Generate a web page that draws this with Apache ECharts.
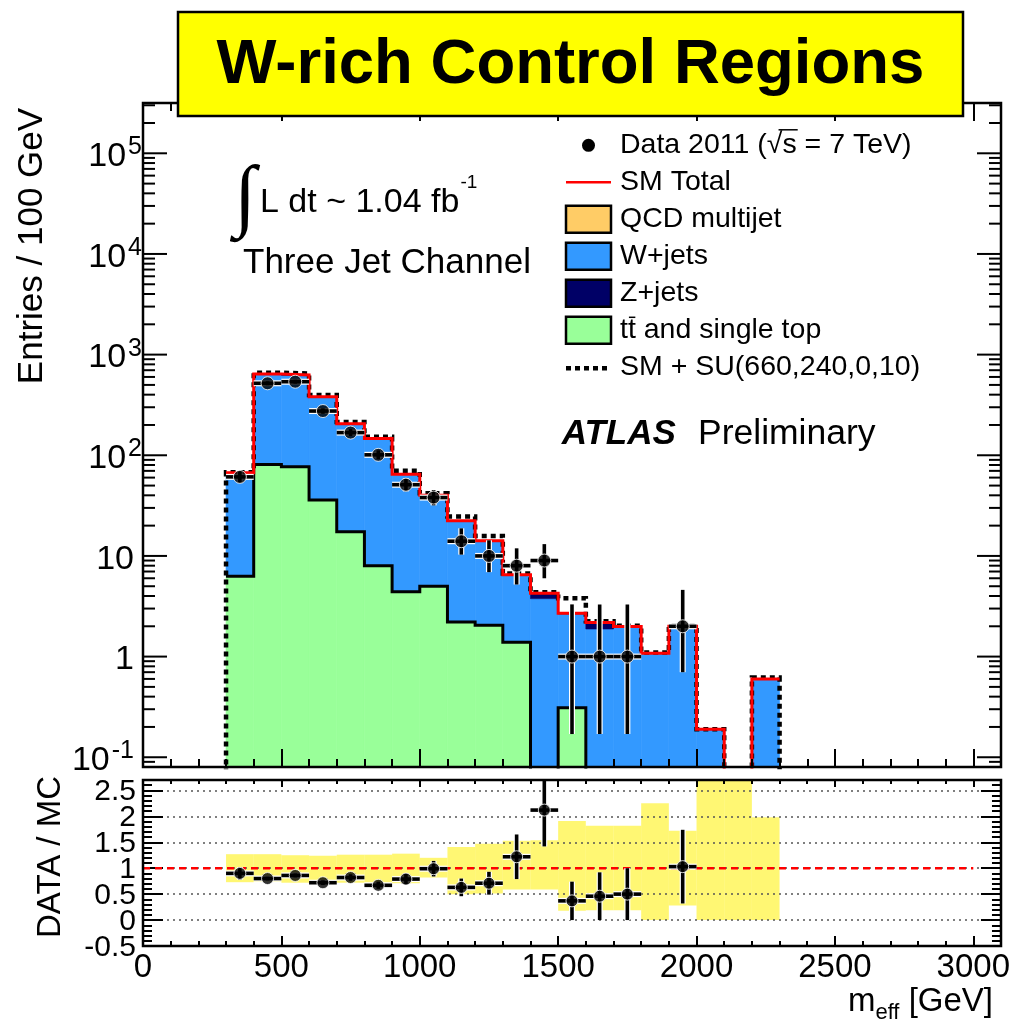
<!DOCTYPE html>
<html>
<head>
<meta charset="utf-8">
<title>W-rich Control Regions</title>
<script src="https://cdn.jsdelivr.net/npm/echarts@6/dist/echarts.min.js"></script>
<style>
  html, body { margin: 0; padding: 0; background: #fff; }
  #chart { width: 1013px; height: 1023px; }
</style>
</head>
<body>
<div id="chart"></div>
<script>
// ---------------- Data ----------------
const binLo = [300, 400, 500, 600, 700, 800, 900, 1000, 1100, 1200, 1300, 1400, 1500, 1600, 1700, 1800, 1900, 2000, 2100, 2200];
const BIN_WIDTH = 100;

// MC stack, entries per bin
const ttbarVals = [6.3, 81, 77, 36, 17.4, 8.0, 4.4, 5.0, 2.2, 2.05, 1.39, 0, 0.31, 0, 0, 0, 0, 0, 0, 0];
const wjetsVals = [60.4, 557, 547, 344, 187, 138, 60, 34.7, 19.9, 12, 5.0, 3.76, 2.34, 1.88, 1.99, 1.08, 2.0, 0.19, 0, 0.6];
const zjetsVals = [0.3, 3, 3, 2, 1, 1, 0.5, 0.3, 0.2, 0.1, 0.1, 0.5, 0.05, 0.3, 0, 0, 0, 0, 0, 0];
const qcdVals   = [0, 0, 0, 0, 0, 0, 0, 0, 0, 0, 0, 0, 0, 0, 0, 0, 0, 0, 0, 0];
const suTotalVals = [68, 662, 648, 396, 214, 153, 70, 42, 24.6, 15.8, 6.7, 4.35, 3.8, 2.25, 2.02, 1.1, 2.02, 0.19, 0, 0.62];

// data
const dataCounts  = [61, 519, 538, 275, 168, 101, 51, 38, 14, 10, 8, 9, 1, 1, 1, 0, 2, 0, 0, 0];
const dataErrUp   = [8.3, 23.8, 24.2, 17.6, 14, 11, 8.2, 7.2, 4.8, 4.3, 3.9, 4.1, 2.3, 2.3, 2.3, 0, 2.6, 0, 0, 0];
const dataErrDown = [7.8, 22.8, 23.2, 16.6, 13, 10, 7.1, 6.2, 3.7, 3.1, 2.8, 3.0, 0.83, 0.83, 0.83, 0, 1.3, 0, 0, 0];

// ratio panel
const ratioVals = [0.90, 0.80, 0.86, 0.72, 0.82, 0.67, 0.79, 0.99, 0.63, 0.71, 1.22, 2.12, 0.37, 0.46, 0.50, null, 1.03, null, null, null];
const ratioErr  = [0.12, 0.035, 0.037, 0.045, 0.063, 0.068, 0.11, 0.15, 0.17, 0.22, 0.43, 0.70, 0.37, 0.46, 0.50, null, 0.71, null, null, null];
const bandUp    = [1.27, 1.27, 1.25, 1.24, 1.26, 1.26, 1.28, 1.20, 1.41, 1.47, 1.53, 1.54, 1.91, 1.82, 1.82, 2.25, 1.72, 3.0, 3.0, 1.98];
const bandDown  = [0.73, 0.74, 0.72, 0.72, 0.72, 0.72, 0.71, 0.82, 0.50, 0.51, 0.59, 0.59, 0.18, 0.19, 0.19, 0, 0.28, 0, 0, 0];

// axis ticks / labels
const xTickLabels = ['0', '500', '1000', '1500', '2000', '2500', '3000'];
const logDecades = [-1, 0, 1, 2, 3, 4, 5];
const ratioTickLabels = ['-0.5', '0', '0.5', '1', '1.5', '2', '2.5'];

const legendLabels = ['Data 2011 (\u221As = 7 TeV)', 'SM Total', 'QCD multijet', 'W+jets', 'Z+jets', 'tt and single top', 'SM + SU(660,240,0,10)'];

// ---------------- Style ----------------
const FONT = '"Liberation Sans", Arial, Helvetica, sans-serif';
const C_TT = '#99ff99', C_W = '#3399ff', C_Z = '#000066', C_QCD = '#ffcc66', C_RED = '#ff0000';
const Y_MIN = 0.08, Y_MAX = 3.16e5;
const LINE_FLOOR = Y_MIN * 0.7;   // empty bins: lines drop below the frame and get clipped
const MAIN = { left: 143, top: 103, width: 858, height: 664 };
const RATIO = { left: 143, top: 780, width: 858, height: 166 };

const measureCtx = document.createElement('canvas').getContext('2d');
function textWidth(str, size, weight, family) {
    measureCtx.font = (weight || 'normal') + ' ' + size + 'px ' + (family || FONT);
    return measureCtx.measureText(str).width;
}

function txt(text, x, y, size, opts) {
    opts = opts || {};
    return {
        type: 'text', x: x, y: y, rotation: opts.rotation || 0, z: opts.z || 60,
        style: {
            text: text, fill: '#000', fontSize: size, fontFamily: opts.family || FONT,
            fontWeight: opts.weight || 'normal', fontStyle: opts.style || 'normal',
            align: opts.align || 'left', verticalAlign: 'middle',
            textAlign: opts.align || 'left', textVerticalAlign: 'middle'
        }
    };
}

// cumulative stack
const cumTT = ttbarVals.slice();
const cumW = cumTT.map((v, i) => v + wjetsVals[i]);
const cumZ = cumW.map((v, i) => v + zjetsVals[i]);
const smTotal = cumZ.map((v, i) => v + qcdVals[i]);

function stepPoints(vals, closeEdges) {
    const pts = [];
    if (closeEdges) pts.push([binLo[0], LINE_FLOOR]);
    vals.forEach((v, i) => pts.push([binLo[i], Math.max(v, LINE_FLOOR)]));
    const lastHi = binLo[binLo.length - 1] + BIN_WIDTH;
    pts.push([lastHi, Math.max(vals[vals.length - 1], LINE_FLOOR)]);
    if (closeEdges) pts.push([lastHi, LINE_FLOOR]);
    return pts;
}

function clipToGrid(rect, params) {
    const cs = params.coordSys;
    return echarts.graphic.clipRectByRect(rect, { x: cs.x, y: cs.y, width: cs.width, height: cs.height });
}

// ---------------- Series builders ----------------
function histFill(name, lower, upper, color, z) {
    return {
        name: name, type: 'custom', xAxisIndex: 0, yAxisIndex: 0, z: z, silent: true,
        data: binLo.map((lo, i) => [lo, Math.max(upper[i], Y_MIN), lo + BIN_WIDTH, Math.max(lower[i], Y_MIN)]),
        renderItem: (params, api) => {
            const top = api.value(1), bot = api.value(3);
            if (!(top > bot)) return null;
            const p0 = api.coord([api.value(0), top]);
            const p1 = api.coord([api.value(2), bot]);
            const rect = clipToGrid({ x: p0[0], y: p0[1], width: p1[0] - p0[0], height: p1[1] - p0[1] }, params);
            return rect && { type: 'rect', shape: rect, style: { fill: color, stroke: color, lineWidth: 0.6 } };
        }
    };
}

function stepLine(name, vals, color, width, dash, closeEdges, z) {
    return {
        name: name, type: 'line', xAxisIndex: 0, yAxisIndex: 0, step: 'end', symbol: 'none',
        z: z, silent: true, clip: true,
        data: stepPoints(vals, closeEdges),
        lineStyle: { color: color, width: width, type: dash || 'solid', cap: 'butt', join: 'miter' }
    };
}

function errorBars(name, xIdx, yIdx, data, clampMin, z) {
    return {
        name: name, type: 'custom', xAxisIndex: xIdx, yAxisIndex: yIdx, z: z, silent: true,
        data: data,
        renderItem: (params, api) => {
            const x = api.value(0), v = api.value(1);
            const lo = Math.max(api.value(2), clampMin), hi = api.value(3);
            const cs = params.coordSys;
            const c = api.coord([x, v]);
            let t = api.coord([x, hi])[1];
            let b = api.coord([x, lo])[1];
            t = Math.max(t, cs.y); b = Math.min(b, cs.y + cs.height);
            const l = api.coord([x - BIN_WIDTH / 2, v])[0];
            const r = api.coord([x + BIN_WIDTH / 2, v])[0];
            const seg = (x1, y1, x2, y2, col, w) => ({ type: 'line', shape: { x1: x1, y1: y1, x2: x2, y2: y2 }, style: { stroke: col, lineWidth: w } });
            return {
                type: 'group',
                children: [
                    seg(c[0], t, c[0], b, '#fff', 6), seg(l, c[1], r, c[1], '#fff', 6),
                    seg(c[0], t, c[0], b, '#000', 3.6), seg(l, c[1], r, c[1], '#000', 3.6)
                ]
            };
        }
    };
}

// ---------------- Axis decorations ----------------
// log-axis ticks 1..9 x 10^k, drawn through the y scale
const logTicks = [];
for (let k = -2; k <= 5; k++) {
    for (let m = 1; m <= 9; m++) {
        const v = m * Math.pow(10, k);
        if (v >= Y_MIN && v <= Y_MAX) logTicks.push([0, v, m === 1 ? 1 : 0]);
    }
}

function renderLogTick(params, api) {
    const v = api.value(1), major = api.value(2) === 1;
    const cs = params.coordSys;
    const y = api.coord([0, v])[1];
    const len = major ? 24 : 12;
    const st = { stroke: '#000', lineWidth: 2 };
    const children = [
        { type: 'line', shape: { x1: cs.x, y1: y, x2: cs.x + len, y2: y }, style: st },
        { type: 'line', shape: { x1: cs.x + cs.width - len, y1: y, x2: cs.x + cs.width, y2: y }, style: st }
    ];
    if (major) {
        const k = Math.round(Math.log10(v));
        if (logDecades.indexOf(k) >= 0) {
            if (k === 0 || k === 1) {
                children.push(txt(k === 0 ? '1' : '10', cs.x - 9, y + 3.5, 34, { align: 'right' }));
            } else {
                const sup = String(k);
                const supRight = k > 0 ? cs.x - 1 : cs.x - 9;
                const sw = textWidth(sup, 25);
                children.push(txt(sup, supRight, y - 6, 25, { align: 'right' }));
                children.push(txt('10', supRight - sw - 2, y + 3.5, 34, { align: 'right' }));
            }
        }
    }
    return { type: 'group', children: children };
}

// ratio y labels, placed through the ratio y scale
function renderRatioLabel(params, api) {
    const v = api.value(1);
    const y = api.coord([0, v])[1];
    return txt(ratioTickLabels[params.dataIndex], params.coordSys.x - 7, y + 1.5, 30, { align: 'right' });
}

// ---------------- Chart ----------------
const chart = echarts.init(document.getElementById('chart'));

const tickStyle = { color: '#000', width: 2 };
function xAxisDef(grid, pos, major, minor, labels) {
    return {
        gridIndex: grid, type: 'value', position: pos, min: 0, max: 3100, interval: 500, z: 10,
        axisLine: { show: false, onZero: false },
        splitLine: { show: false },
        axisTick: { show: true, inside: true, length: major, lineStyle: tickStyle },
        minorTick: { show: true, splitNumber: 5, length: minor, lineStyle: tickStyle },
        axisLabel: labels ? {
            show: true, fontSize: 33, fontFamily: FONT, color: '#000', margin: 5,
            showMinLabel: true, showMaxLabel: false,
            formatter: v => (xTickLabels.indexOf(String(v)) >= 0 ? String(v) : '')
        } : { show: false }
    };
}

function ratioYAxis(pos, grid) {
    return {
        gridIndex: 1, type: 'value', position: pos, min: -0.5, max: 2.7, interval: 0.5, z: 10,
        axisLine: { show: false, onZero: false },
        axisTick: { show: true, inside: true, length: 20, lineStyle: tickStyle },
        minorTick: { show: true, splitNumber: 5, length: 9, lineStyle: tickStyle },
        splitLine: grid ? { show: true, lineStyle: { color: '#555', width: 1.5, type: [2, 4] } } : { show: false },
        axisLabel: { show: false }
    };
}

// data points
const mainPoints = binLo.map((lo, i) => [lo + BIN_WIDTH / 2, dataCounts[i]]).filter(p => p[1] > 0);
const mainErrData = binLo.map((lo, i) => [lo + BIN_WIDTH / 2, dataCounts[i], dataCounts[i] - dataErrDown[i], dataCounts[i] + dataErrUp[i]])
    .filter(p => p[1] > 0);
const ratioPoints = binLo.map((lo, i) => [lo + BIN_WIDTH / 2, ratioVals[i]]).filter(p => p[1] !== null);
const ratioErrData = binLo.map((lo, i) => [lo + BIN_WIDTH / 2, ratioVals[i], ratioVals[i] - ratioErr[i], ratioVals[i] + ratioErr[i]])
    .filter(p => p[1] !== null);

// ---------------- Graphic overlays ----------------
function buildLegend() {
    const els = [];
    const x0 = 566, boxW = 45, boxH = 27, tx = 620, y0 = 145.3, dy = 37, fs = 28.5;
    const kinds = ['marker', 'line', 'box', 'box', 'box', 'box', 'dotted'];
    const colors = ['#000', C_RED, C_QCD, C_W, C_Z, C_TT, '#000'];
    legendLabels.forEach((label, i) => {
        const y = y0 + i * dy;
        const kind = kinds[i];
        if (kind === 'marker') {
            els.push({ type: 'circle', z: 60, shape: { cx: x0 + boxW / 2, cy: y, r: 6.5 }, style: { fill: '#000' } });
        } else if (kind === 'line') {
            els.push({ type: 'line', z: 60, shape: { x1: x0, y1: y, x2: x0 + boxW, y2: y }, style: { stroke: colors[i], lineWidth: 2.5 } });
        } else if (kind === 'dotted') {
            els.push({ type: 'line', z: 60, shape: { x1: x0, y1: y + 1, x2: x0 + boxW, y2: y + 1 }, style: { stroke: '#000', lineWidth: 4.5, lineDash: [5, 4] } });
        } else {
            els.push({ type: 'rect', z: 60, shape: { x: x0, y: y - boxH / 2, width: boxW, height: boxH }, style: { fill: colors[i], stroke: '#000', lineWidth: 2.5 } });
        }
        els.push(txt(label, tx, y, fs));
    });
    // sqrt overline over "s"
    const wa = textWidth('Data 2011 (', fs), wb = textWidth('Data 2011 (\u221A', fs), wc = textWidth('Data 2011 (\u221As', fs);
    els.push({ type: 'line', z: 60, shape: { x1: tx + wa + (wb - wa) * 0.75, y1: y0 - 15.5, x2: tx + wc + 1, y2: y0 - 15.5 }, style: { stroke: '#000', lineWidth: 1.5 } });
    // t-bar
    const ttY = y0 + 5 * dy;
    const w1 = textWidth('t', fs), w2 = textWidth('tt', fs);
    els.push({ type: 'line', z: 60, shape: { x1: tx + w1 + 1, y1: ttY - 13, x2: tx + w2 - 0.5, y2: ttY - 13 }, style: { stroke: '#000', lineWidth: 1.5 } });
    return els;
}

function buildOverlays() {
    const els = [];
    // frames
    [MAIN, RATIO].forEach(g => {
        els.push({ type: 'rect', z: 50, shape: { x: g.left, y: g.top, width: g.width, height: g.height }, style: { fill: null, stroke: '#000', lineWidth: 2.5 } });
    });
    // title box
    els.push({ type: 'rect', z: 100, shape: { x: 178, y: 12, width: 785, height: 104 }, style: { fill: '#ffff00', stroke: '#000', lineWidth: 2.5 } });
    els.push(txt('W-rich Control Regions', 570.5, 65, 63.5, { align: 'center', weight: 'bold', z: 101 }));

    // axis titles
    els.push(txt('Entries / 100 GeV', 32, 246, 35, { align: 'center', rotation: Math.PI / 2 }));
    els.push(txt('DATA / MC', 51, 857, 33, { align: 'center', rotation: Math.PI / 2 }));
    const mW = textWidth('m', 33), effW = textWidth('eff', 22);
    const xt = 993 - textWidth(' [GeV]', 33) - effW - mW;
    els.push(txt('m', xt, 1001.5, 33));
    els.push(txt('eff', xt + mW, 1013, 22));
    els.push(txt(' [GeV]', xt + mW + effW, 1001.5, 33));

    // annotations
    els.push(txt('\u222B', 245, 200, 80, { align: 'center', family: '"Liberation Serif", "DejaVu Serif", serif' }));
    const lumi = 'L dt ~ 1.04 fb';
    els.push(txt(lumi, 260, 202.5, 34));
    els.push(txt('-1', 261 + textWidth(lumi, 34), 183, 19));
    els.push(txt('Three Jet Channel', 243, 263.5, 35));
    els.push(txt('ATLAS', 561.7, 434, 35, { weight: 'bold', style: 'italic' }));
    els.push(txt('Preliminary', 698, 434, 35.5));

    return els.concat(buildLegend());
}

const option = {
    animation: false,
    backgroundColor: '#fff',
    grid: [
        { left: MAIN.left, top: MAIN.top, width: MAIN.width, height: MAIN.height },
        { left: RATIO.left, top: RATIO.top, width: RATIO.width, height: RATIO.height }
    ],
    xAxis: [
        xAxisDef(0, 'bottom', 18, 8, false),
        xAxisDef(0, 'top', 18, 8, false),
        xAxisDef(1, 'bottom', 10, 5, true),
        xAxisDef(1, 'top', 7, 4, false)
    ],
    yAxis: [
        {
            gridIndex: 0, type: 'log', logBase: 10, min: Y_MIN, max: Y_MAX,
            axisLine: { show: false, onZero: false }, axisTick: { show: false },
            axisLabel: { show: false }, splitLine: { show: false }
        },
        ratioYAxis('left', true),
        ratioYAxis('right', false)
    ],
    series: [
        // MC stack fills
        histFill('tt and single top', new Array(binLo.length).fill(0), cumTT, C_TT, 2),
        histFill('W+jets', cumTT, cumW, C_W, 2),
        histFill('Z+jets', cumW, cumZ, C_Z, 2),
        histFill('QCD multijet', cumZ, smTotal, C_QCD, 2),
        stepLine('tt outline', cumTT, '#000', 3, 'solid', false, 3),
        stepLine('SM + SU', suTotalVals, '#000', 4.5, [5, 4], true, 4),
        stepLine('SM Total', smTotal, C_RED, 3, 'solid', false, 5),
        // data
        errorBars('Data err', 0, 0, mainErrData, Y_MIN, 6),
        {
            name: 'Data 2011', type: 'scatter', xAxisIndex: 0, yAxisIndex: 0, z: 7, silent: true,
            symbol: 'circle', symbolSize: 13, data: mainPoints,
            itemStyle: { color: '#000', borderColor: '#fff', borderWidth: 1 }
        },
        // log ticks + labels
        {
            name: 'logTicks', type: 'custom', xAxisIndex: 0, yAxisIndex: 0, z: 30, silent: true,
            data: logTicks, renderItem: renderLogTick
        },
        // ratio panel
        {
            name: 'MC uncertainty', type: 'custom', xAxisIndex: 2, yAxisIndex: 1, z: 2, silent: true,
            data: binLo.map((lo, i) => [lo, bandUp[i], lo + BIN_WIDTH, bandDown[i]]),
            renderItem: (params, api) => {
                const p0 = api.coord([api.value(0), api.value(1)]);
                const p1 = api.coord([api.value(2), api.value(3)]);
                const rect = clipToGrid({ x: p0[0], y: p0[1], width: p1[0] - p0[0], height: p1[1] - p0[1] }, params);
                return rect && { type: 'rect', shape: rect, style: { fill: 'rgba(255, 240, 0, 0.55)' } };
            }
        },
        {
            name: 'unity', type: 'line', xAxisIndex: 2, yAxisIndex: 1, z: 20, silent: true, symbol: 'none',
            data: [[0, 1], [3000, 1]],
            lineStyle: { color: C_RED, width: 2.5, type: [7, 5] }
        },
        errorBars('Ratio err', 2, 1, ratioErrData, -0.5, 21),
        {
            name: 'Ratio', type: 'scatter', xAxisIndex: 2, yAxisIndex: 1, z: 22, silent: true,
            symbol: 'circle', symbolSize: 12, data: ratioPoints,
            itemStyle: { color: '#000', borderColor: '#fff', borderWidth: 1 }
        },
        {
            name: 'ratioLabels', type: 'custom', xAxisIndex: 2, yAxisIndex: 1, z: 30, silent: true,
            data: ratioTickLabels.map(s => [0, parseFloat(s)]),
            renderItem: renderRatioLabel
        }
    ],
    graphic: { elements: buildOverlays() }
};

chart.setOption(option);
</script>
</body>
</html>
